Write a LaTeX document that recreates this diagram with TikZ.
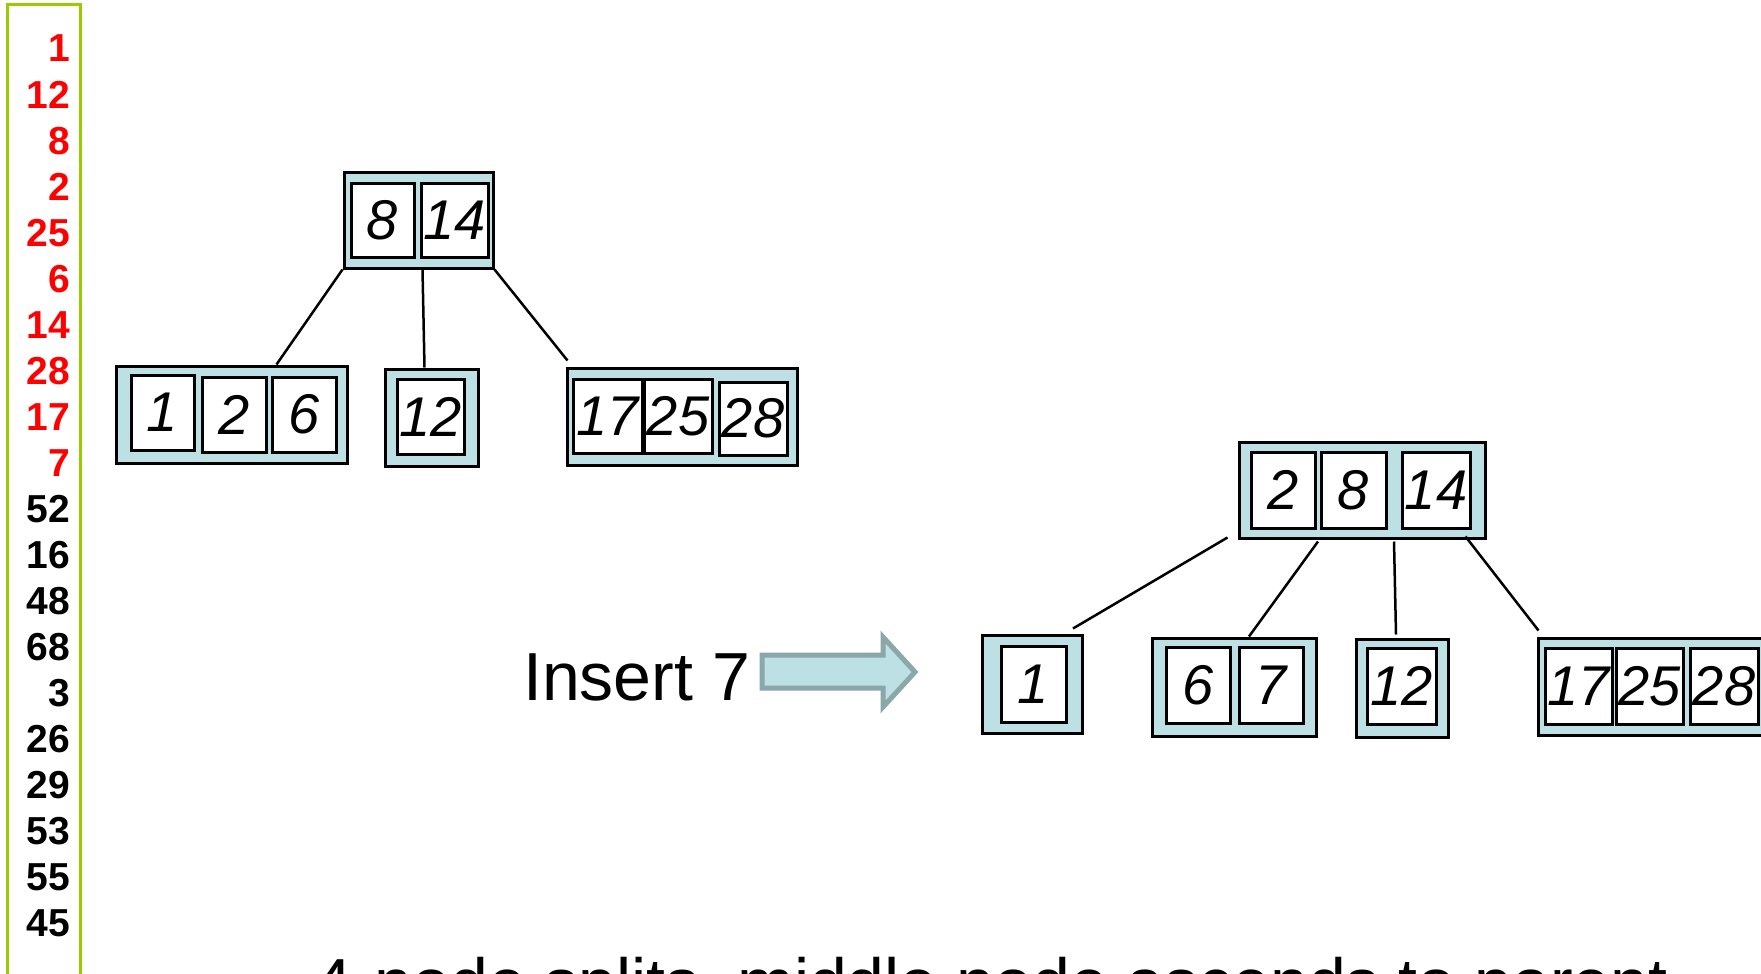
\documentclass[tikz,border=0pt]{standalone}
\usepackage{fontspec}
\setmainfont{Liberation Sans}
\usetikzlibrary{calc}
\definecolor{boxfill}{RGB}{188,224,227}
\definecolor{arrowline}{RGB}{139,167,169}
\definecolor{listgreen}{RGB}{153,204,0}
\definecolor{listred}{RGB}{255,0,0}
\begin{document}
\begin{tikzpicture}[x=1pt,y=-1pt,
  outer/.style={draw=black, fill=boxfill, line width=3pt, inner sep=0pt},
  cell/.style={draw=black, fill=white, line width=3pt, inner sep=0pt,
    font=\fontsize{56}{60}\selectfont\itshape},
  numtxt/.style={anchor=base east, inner sep=0pt, font=\fontsize{39}{40}\selectfont\bfseries},
  bigtxt/.style={anchor=base west, inner sep=0pt, font=\fontsize{68}{72}\selectfont},
  edge/.style={draw=black, line width=2.5pt},
  bigarrow/.style={fill=boxfill, draw=arrowline, line width=5pt, line join=miter}]
\path[use as bounding box] (0,0) rectangle (1761,974);
\clip (0,0) rectangle (1761,974);
\fill[white] (0,0) rectangle (1761,974);

% list of keys
\draw[listgreen, line width=3pt] (7,5) rectangle (80,1000);
\foreach \v/\c [count=\i from 0] in {1/listred,12/listred,8/listred,2/listred,25/listred,6/listred,14/listred,28/listred,17/listred,7/listred,52/black,16/black,48/black,68/black,3/black,26/black,29/black,53/black,55/black,45/black}
  \node[numtxt, text=\c] (num\i) at (70,{62+46.0*\i}) {\v};

% ---- left tree ----
\node[outer, minimum width=149pt, minimum height=96pt] (T1) at (418.5,220) {};
\node[cell, minimum width=63pt, minimum height=74pt] (T1a) at (382.5,220) {8};
\node[cell, minimum width=67pt, minimum height=74pt] (T1b) at (454.5,220) {14};

\node[outer, minimum width=231pt, minimum height=97pt] (L1) at (231.5,414.5) {};
\node[cell, minimum width=63pt, minimum height=75pt] (L1a) at (162.5,412.5) {1};
\node[cell, minimum width=64pt, minimum height=75pt] (L1b) at (234,414.5) {2};
\node[cell, minimum width=64pt, minimum height=75pt] (L1c) at (304,414.5) {6};

\node[outer, minimum width=93pt, minimum height=97pt] (L2) at (431.5,417.5) {};
\node[cell, minimum width=67pt, minimum height=75pt] (L2a) at (430.5,416.5) {12};

\node[outer, minimum width=230pt, minimum height=97pt] (L3) at (682,416.5) {};
\node[cell, minimum width=69pt, minimum height=74pt] (L3a) at (607.5,416) {17};
\node[cell, minimum width=68pt, minimum height=74pt] (L3b) at (678,416) {25};
\node[cell, minimum width=68pt, minimum height=73pt] (L3c) at (753,418.5) {28};

\draw[edge] (T1.south west) -- ([xshift=162pt]L1.north west);
\draw[edge] ([xshift=4pt]T1.south) -- ([xshift=-7pt]L2.north);
\draw[edge] (T1.south east) -- ([xshift=2pt,yshift=6pt]L3.north west);

% ---- insert label and arrow ----
\node[bigtxt] (ins) at (523,700) {Insert 7};
\coordinate (arrowstart) at (762,671.5);
\path[bigarrow] (arrowstart) ++(0,-16.5) -- ++(121,0) -- ++(0,-18) -- (915,672) -- (883,707) -- ++(0,-19) -- ++(-121,0) -- cycle;

% ---- right tree ----
\node[outer, minimum width=246pt, minimum height=96pt] (R) at (1362,490) {};
\node[cell, minimum width=64pt, minimum height=76pt] (Ra) at (1283,490) {2};
\node[cell, minimum width=65pt, minimum height=76pt] (Rb) at (1353.5,490) {8};
\node[cell, minimum width=68pt, minimum height=76pt] (Rc) at (1436,490) {14};

\node[outer, minimum width=100pt, minimum height=98pt] (RL1) at (1032,684) {};
\node[cell, minimum width=65pt, minimum height=76pt] (RL1a) at (1033.5,684) {1};

\node[outer, minimum width=164pt, minimum height=98pt] (RL2) at (1234,687) {};
\node[cell, minimum width=64pt, minimum height=76pt] (RL2a) at (1198,685) {6};
\node[cell, minimum width=64pt, minimum height=76pt] (RL2b) at (1271,685) {7};

\node[outer, minimum width=92pt, minimum height=98pt] (RL3) at (1402,688) {};
\node[cell, minimum width=69pt, minimum height=76pt] (RL3a) at (1401.5,686) {12};

\node[outer, minimum width=230pt, minimum height=97pt] (RL4) at (1653,686.5) {};
\node[cell, minimum width=67pt, minimum height=76pt] (RL4a) at (1578.5,686) {17};
\node[cell, minimum width=67pt, minimum height=76pt] (RL4b) at (1649.5,686) {25};
\node[cell, minimum width=68pt, minimum height=76pt] (RL4c) at (1724,686) {28};

\draw[edge] ([xshift=-10pt,yshift=2pt]R.south west) -- ([xshift=41pt,yshift=5pt]RL1.north);
\draw[edge] ([xshift=-44pt,yshift=-2pt]R.south) -- ([xshift=15pt]RL2.north);
\draw[edge] ([xshift=32pt,yshift=-2pt]R.south) -- ([xshift=-6pt,yshift=3pt]RL3.north);
\draw[edge] ([xshift=-21pt,yshift=3pt]R.south east) -- ([xshift=2pt,yshift=6pt]RL4.north west);

% ---- caption (cut off at the bottom, as in the reference) ----
\node[bigtxt] (caption) at (314,1006) {4-node splits, middle node ascends to parent};
\end{tikzpicture}
\end{document}
